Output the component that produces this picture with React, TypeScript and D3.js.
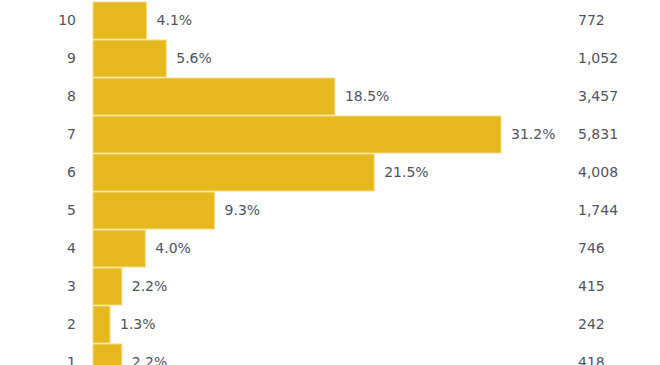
import React, { useEffect, useRef } from "react";
import * as d3 from "d3";

const ratings = ["10", "9", "8", "7", "6", "5", "4", "3", "2", "1"];
const percents = [4.1, 5.6, 18.5, 31.2, 21.5, 9.3, 4.0, 2.2, 1.3, 2.2];
const counts = [772, 1052, 3457, 5831, 4008, 1744, 746, 415, 242, 418];

const App = () => {
  const ref = useRef<SVGSVGElement>(null);

  useEffect(() => {
    if (!ref.current) return;
    const svg = d3.select(ref.current);
    svg.selectAll("*").remove();

    const rows = ratings.map((r, i) => ({ rating: r, pct: percents[i], count: counts[i] }));

    const y = d3.scaleBand<string>()
      .domain(ratings)
      .range([1.5, 381.5])
      .paddingInner(1 / 38)
      .paddingOuter(0.5 / 38);

    const x = d3.scaleLinear().domain([0, 31.2]).range([93, 501]);

    const font = "DejaVu Sans, Verdana, sans-serif";
    const textColor = "#50535e";

    // bars
    svg.append("g")
      .selectAll("rect")
      .data(rows)
      .enter()
      .append("rect")
      .attr("x", x(0))
      .attr("y", d => y(d.rating) || 0)
      .attr("width", d => x(d.pct) - x(0))
      .attr("height", y.bandwidth())
      .attr("fill", "#E5B81E")
      .attr("stroke", "#F6DC86")
      .attr("stroke-width", 1);

    // rating labels
    svg.append("g")
      .selectAll("text")
      .data(rows)
      .enter()
      .append("text")
      .attr("x", 76)
      .attr("y", d => (y(d.rating) || 0) + y.bandwidth() / 2)
      .attr("dy", "0.35em")
      .attr("text-anchor", "end")
      .style("font-family", font)
      .style("font-size", "14px")
      .style("fill", textColor)
      .text(d => d.rating);

    // percent labels
    svg.append("g")
      .selectAll("text")
      .data(rows)
      .enter()
      .append("text")
      .attr("x", d => x(d.pct) + 10)
      .attr("y", d => (y(d.rating) || 0) + y.bandwidth() / 2)
      .attr("dy", "0.35em")
      .style("font-family", font)
      .style("font-size", "14px")
      .style("fill", textColor)
      .text(d => d.pct.toFixed(1) + "%");

    // vote counts
    svg.append("g")
      .selectAll("text")
      .data(rows)
      .enter()
      .append("text")
      .attr("x", 578)
      .attr("y", d => (y(d.rating) || 0) + y.bandwidth() / 2)
      .attr("dy", "0.35em")
      .style("font-family", font)
      .style("font-size", "14px")
      .style("fill", textColor)
      .text(d => d3.format(",")(d.count));
  }, []);

  return (
    <svg
      ref={ref}
      width={660}
      height={365}
      style={{ position: "fixed", left: 0, top: 0, background: "#fff" }}
    />
  );
};

export default App;
